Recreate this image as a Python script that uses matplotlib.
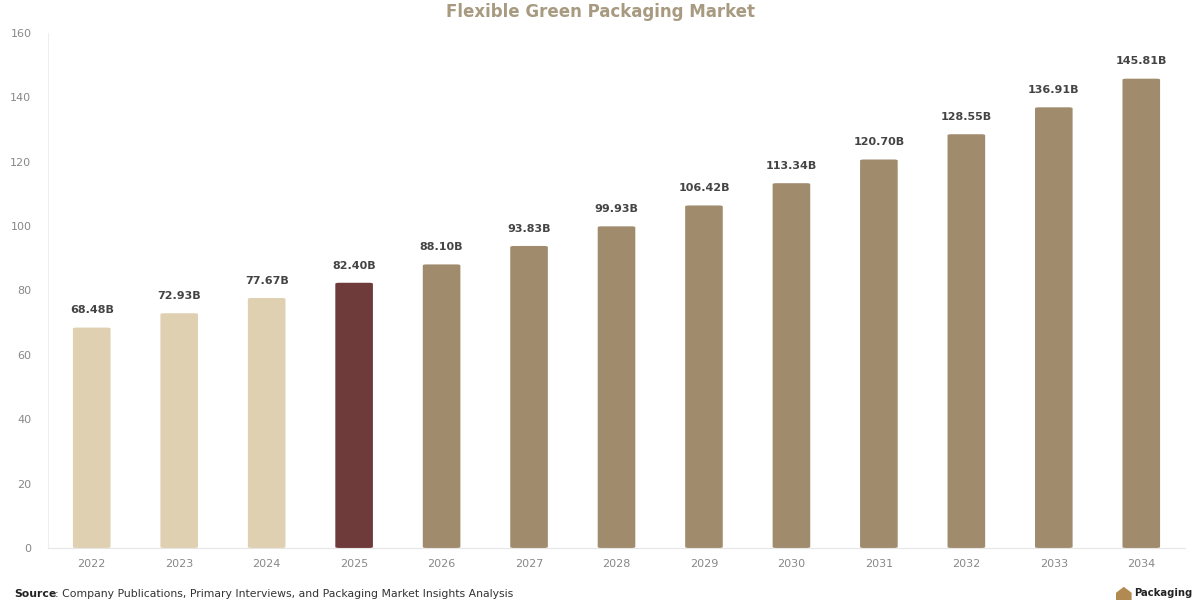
import matplotlib.pyplot as plt
from matplotlib.patches import FancyBboxPatch

years = ["2022", "2023", "2024", "2025", "2026", "2027", "2028",
         "2029", "2030", "2031", "2032", "2033", "2034"]
values = [68.48, 72.93, 77.67, 82.40, 88.10, 93.83, 99.93,
          106.42, 113.34, 120.70, 128.55, 136.91, 145.81]
colors = ["#E0D0B2"] * 3 + ["#6E3A3A"] + ["#A08B6D"] * 9

fig = plt.figure(figsize=(12, 6), dpi=100)
ax = fig.add_axes([0.04, 0.0867, 0.9475, 0.8583])

width = 0.43
for i, (v, c) in enumerate(zip(values, colors)):
    patch = FancyBboxPatch((i - width / 2, 0), width, v,
                           boxstyle="round,pad=0,rounding_size=0.04",
                           mutation_aspect=8, facecolor=c, edgecolor="none")
    ax.add_patch(patch)
    ax.text(i, v + 3.8, "{:.2f}B".format(v), ha="center", va="bottom",
            fontsize=8, fontweight="bold", color="#444444")

ax.set_xlim(-0.5, len(years) - 0.5)
ax.set_ylim(0, 160)
ax.set_xticks(range(len(years)))
ax.set_xticklabels(years)
ax.set_yticks(range(0, 161, 20))
ax.tick_params(axis="both", length=0, labelsize=8, colors="#888888")
ax.tick_params(axis="x", pad=8)
ax.tick_params(axis="y", pad=12)

for s in ["top", "right"]:
    ax.spines[s].set_visible(False)
ax.spines["left"].set_color("#EEEEEE")
ax.spines["bottom"].set_color("#E6E6E6")

fig.text(0.5, 0.98, "Flexible Green Packaging Market", ha="center", va="center",
         fontsize=12, fontweight="bold", color="#A89A80")

fig.text(0.012, 0.01, "Source", ha="left", va="center", fontsize=7.8,
         fontweight="bold", color="#222222")
fig.text(0.046, 0.01, ": Company Publications, Primary Interviews, and Packaging Market Insights Analysis",
         ha="left", va="center", fontsize=7.8, color="#333333")

fig.patches.append(plt.Polygon([[0.930, 0.0], [0.930, 0.012], [0.9365, 0.022], [0.943, 0.012], [0.943, 0.0]],
                               closed=True, transform=fig.transFigure, facecolor="#B08A50", edgecolor="none"))
fig.text(0.945, 0.012, "Packaging", ha="left", va="center", fontsize=7.2,
         fontweight="bold", color="#222222")

fig.savefig("out.png", dpi=100, facecolor="white")
